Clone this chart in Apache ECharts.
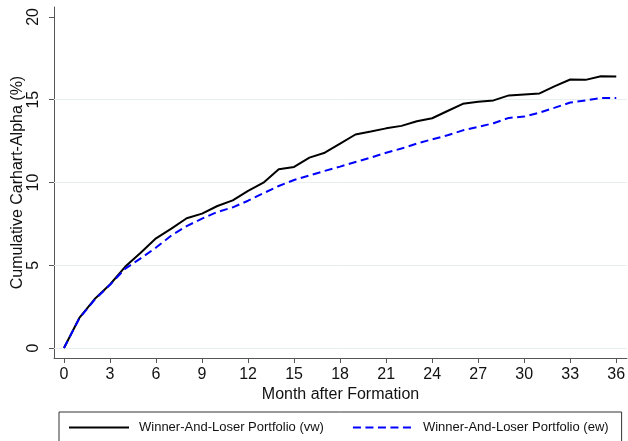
<!DOCTYPE html>
<html>
<head>
<meta charset="utf-8">
<script src="https://cdn.jsdelivr.net/npm/echarts@6/dist/echarts.min.js"></script>
<style>html,body{margin:0;padding:0;background:#fff}#c{width:628px;height:441px}</style>
</head>
<body>
<div id="c"></div>
<script>
const months = [0,1,2,3,4,5,6,7,8,9,10,11,12,13,14,15,16,17,18,19,20,21,22,23,24,25,26,27,28,29,30,31,32,33,34,35,36];
const vw = [0,1.82,2.96,3.84,4.92,5.76,6.63,7.21,7.84,8.12,8.58,8.92,9.5,9.99,10.8,10.94,11.5,11.8,12.35,12.9,13.08,13.27,13.42,13.7,13.88,14.32,14.75,14.88,14.96,15.26,15.32,15.38,15.82,16.22,16.2,16.42,16.4];
const ew = [0,1.8,2.92,3.82,4.8,5.42,6.07,6.8,7.37,7.82,8.22,8.5,8.9,9.35,9.79,10.15,10.43,10.7,10.96,11.24,11.5,11.8,12.05,12.35,12.61,12.85,13.15,13.36,13.58,13.9,13.98,14.22,14.52,14.83,14.96,15.1,15.11];
const xTicks = [0,3,6,9,12,15,18,21,24,27,30,33,36];
const yTicks = [0,5,10,15,20];
const gridVals = [0,5,10,15];
const names = ['Winner-And-Loser Portfolio (vw)','Winner-And-Loser Portfolio (ew)'];

const chart = echarts.init(document.getElementById('c'), null, {renderer:'canvas'});
const font = 'Liberation Sans, Arial, sans-serif';
const axisColor = '#555';
chart.setOption({
  animation: false,
  backgroundColor: '#fff',
  grid: {left: 54, right: 1, top: 7, bottom: 83, containLabel: false, outerBoundsMode: 'none'},
  xAxis: {
    type: 'value', min: -0.65, max: 36.7,
    name: 'Month after Formation', nameLocation: 'middle', nameGap: 29, nameMoveOverlap: false,
    nameTextStyle: {fontFamily: font, fontSize: 16, color: '#111'},
    axisLine: {show: true, onZero: false, lineStyle: {color: axisColor, width: 1}},
    axisTick: {show: true, length: 5, customValues: xTicks, lineStyle: {color: axisColor}},
    axisLabel: {customValues: xTicks, margin: 9, fontFamily: font, fontSize: 16, color: '#111'},
    splitLine: {show: false}
  },
  yAxis: {
    type: 'value', min: -0.6, max: 20.6,
    name: 'Cumulative Carhart-Alpha (%)', nameLocation: 'middle', nameGap: 28, nameMoveOverlap: false,
    nameTextStyle: {fontFamily: font, fontSize: 16, color: '#111'},
    axisLine: {show: true, onZero: false, lineStyle: {color: axisColor, width: 1}},
    axisTick: {show: true, length: 5, customValues: yTicks, lineStyle: {color: axisColor}},
    axisLabel: {customValues: yTicks, rotate: 90, margin: 12, fontFamily: font, fontSize: 16, color: '#111'},
    splitLine: {show: false}
  },
  legend: {
    data: names,
    left: 59, top: 412,
    orient: 'horizontal',
    itemWidth: 60, itemHeight: 14, itemGap: 28,
    padding: [9, 13, 30, 9],
    borderColor: '#333', borderWidth: 1, backgroundColor: '#fff',
    itemStyle: {opacity: 0, borderWidth: 0},
    textStyle: {fontFamily: font, fontSize: 13, color: '#111', padding: [0,0,0,5]}
  },
  series: [
    {
      name: 'grid', type: 'line', data: [], z: 1, silent: true,
      markLine: {
        z: 1, silent: true, symbol: 'none', label: {show: false},
        lineStyle: {color: '#e6eef0', width: 1, type: 'solid'},
        data: gridVals.map(v => ({yAxis: v}))
      }
    },
    {
      name: names[0], type: 'line', showSymbol: false, symbol: 'none', z: 3,
      data: months.map((m, i) => [m, vw[i]]),
      lineStyle: {color: '#000', width: 2}, itemStyle: {color: '#000'}
    },
    {
      name: names[1], type: 'line', showSymbol: false, symbol: 'none', z: 4,
      data: months.map((m, i) => [m, ew[i]]),
      lineStyle: {color: '#0000ff', width: 2, type: [8, 4.5]}, itemStyle: {color: '#0000ff'}
    }
  ]
});
</script>
</body>
</html>
